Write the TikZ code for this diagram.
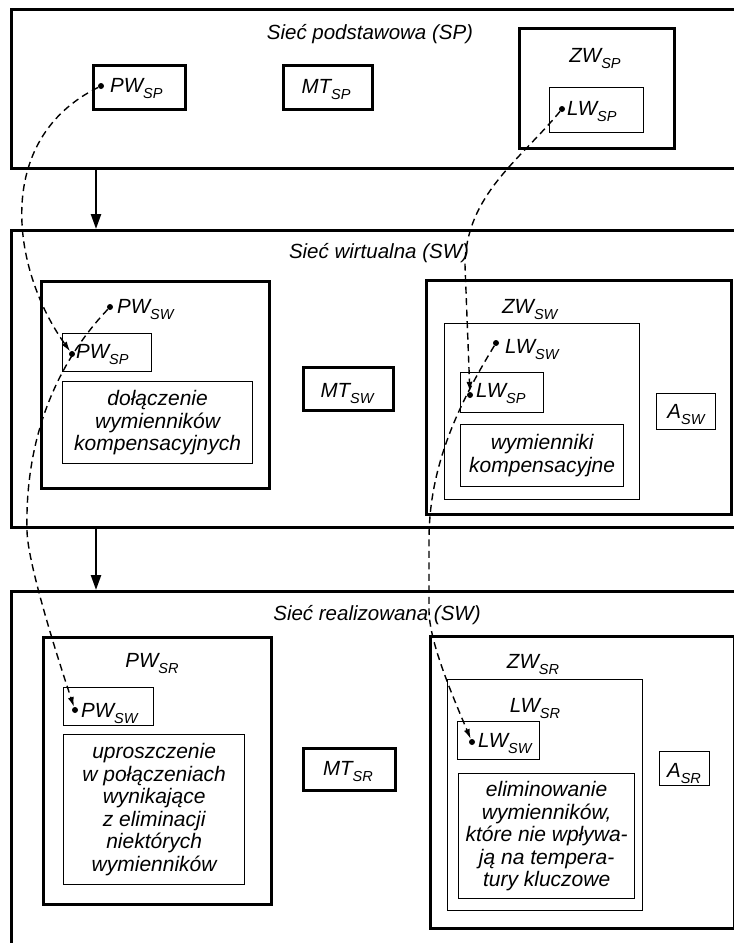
\documentclass[tikz,border=0pt]{standalone}
\usepackage{fontspec}
\setmainfont{Liberation Sans}
\usetikzlibrary{arrows.meta}
\newcommand\sbs[1]{\raisebox{-0.3em}{\fontsize{14.5}{14.5}\selectfont #1}}
\newcommand\rbox[7]{\node[#1, minimum width={(#5-#3)*1pt}, minimum height={(#6-#4)*1pt}] (#2) at (#3,#4) {#7};}
\tikzset{
  thickbox/.style={draw, line width=2.6pt, anchor=north west, inner sep=0pt},
  thinbox/.style={draw, line width=1.3pt, anchor=north west, inner sep=0pt},
  txt/.style={font=\fontsize{20.5}{22.5}\selectfont\itshape, inner sep=0pt, align=center},
  btxt/.style={font=\fontsize{21}{22.5}\selectfont\itshape, inner sep=0pt, align=center},
  link/.style={dash pattern=on 7pt off 4.5pt, line width=1.4pt, -{Latex[length=10pt,width=6pt]}},
  flow/.style={line width=2.4pt, -{Triangle[length=15pt,width=10pt]}},
  pdot/.style={circle, fill, inner sep=0pt, minimum size=6pt},
}
\begin{document}
\begin{tikzpicture}[x=1pt,y=-1pt]
\useasboundingbox (0,0) rectangle (734,943);
\clip (0,0) rectangle (734,943);

% ---------- panel 1 ----------
\rbox{thickbox}{p1}{10}{8}{790}{167}{}
\node[txt, anchor=base] (t1) at (370,39) {Sieć podstawowa (SP)};
\rbox{thickbox}{b1}{92}{64}{184}{108}{}
\node[txt, anchor=base west] (l1) at (110,92) {PW\sbs{SP}};
\rbox{thickbox}{mt1}{282}{64}{371}{108}{}
\node[txt, anchor=base] (lmt1) at (326,93) {MT\sbs{SP}};
\rbox{thickbox}{zw1}{518}{27}{673}{147}{}
\node[txt, anchor=base] (lzw1) at (595,62) {ZW\sbs{SP}};
\rbox{thinbox}{lw1}{549}{87}{643}{132}{}
\node[txt, anchor=base west] (llw1) at (567,115) {LW\sbs{SP}};

% ---------- panel 2 ----------
\rbox{thickbox}{p2}{10}{229}{790}{526}{}
\node[txt, anchor=base] (t2) at (379,258) {Sieć wirtualna (SW)};
\rbox{thickbox}{c2a}{40}{280}{268}{487}{}
\node[txt, anchor=base west] (lpw2) at (117,313) {PW\sbs{SW}};
\rbox{thinbox}{b2}{62}{333}{151}{371}{}
\node[txt, anchor=base west] (lpws2) at (76,358) {PW\sbs{SP}};
\rbox{thinbox,btxt}{tx2}{62}{381}{252}{463}{dołączenie\\wymienników\\kompensacyjnych}
\rbox{thickbox}{mt2}{302}{366}{392}{409}{}
\node[txt, anchor=base] (lmt2) at (347,397) {MT\sbs{SW}};
\rbox{thickbox}{zw2}{425}{279}{730}{513}{}
\node[txt, anchor=base west] (lzw2) at (502,313) {ZW\sbs{SW}};
\rbox{thinbox}{lwc2}{444}{323}{639}{499}{}
\node[txt, anchor=base west] (llw2) at (505,353) {LW\sbs{SW}};
\rbox{thinbox}{lw2}{460}{372}{543}{412}{}
\node[txt, anchor=base west] (llws2) at (476,397) {LW\sbs{SP}};
\rbox{thinbox,btxt}{tx2b}{460}{424}{623}{486}{wymienniki\\kompensacyjne}
\rbox{thinbox}{a2}{656}{393}{715}{429}{}
\node[txt, anchor=base] (la2) at (686,418) {A\sbs{SW}};

% ---------- panel 3 ----------
\rbox{thickbox}{p3}{10}{590}{790}{1000}{}
\node[txt, anchor=base] (t3) at (377,620) {Sieć realizowana (SW)};
\rbox{thickbox}{c3a}{42}{636}{270}{903}{}
\node[txt, anchor=base] (lpw3) at (152,667) {PW\sbs{SR}};
\rbox{thinbox}{b3}{63}{687}{153}{725}{}
\node[txt, anchor=base west] (lpws3) at (81,717) {PW\sbs{SW}};
\rbox{thinbox,btxt}{tx3}{63}{734}{244}{884}{uproszczenie\\w połączeniach\\wynikające\\z eliminacji\\niektórych\\wymienników}
\rbox{thickbox}{mt3}{302}{747}{394}{789}{}
\node[txt, anchor=base] (lmt3) at (348,775) {MT\sbs{SR}};
\rbox{thickbox}{zw3}{429}{635}{733}{927}{}
\node[txt, anchor=base] (lzw3) at (533,668) {ZW\sbs{SR}};
\rbox{thinbox}{lwc3}{447}{679}{642}{910}{}
\node[txt, anchor=base] (llw3) at (535,712) {LW\sbs{SR}};
\rbox{thinbox}{lw3}{457}{721}{539}{759}{}
\node[txt, anchor=base west] (llws3) at (478,747) {LW\sbs{SW}};
\rbox{thinbox,btxt}{tx3b}{458}{773}{634}{898}{eliminowanie\\wymienników,\\które nie wpływa-\\ją na tempera-\\tury kluczowe}
\rbox{thinbox}{a3}{659}{751}{709}{785}{}
\node[txt, anchor=base] (la3) at (684,777) {A\sbs{SR}};

% ---------- flow arrows ----------
\draw[flow] ([xshift=86pt]p1.south west) -- ([xshift=86pt]p2.north west);
\draw[flow] ([xshift=86pt]p2.south west) -- ([xshift=86pt]p3.north west);

% ---------- dots ----------
\node[pdot] (d1) at (101,86) {};
\node[pdot] (d2) at (562,109) {};
\node[pdot] (d3) at (110,307) {};
\node[pdot] (d4) at (72,354) {};
\node[pdot] (d5) at (496,343) {};
\node[pdot] (d6) at (470,395) {};
\node[pdot] (d7) at (75,710) {};
\node[pdot] (d8) at (472,742) {};
\coordinate (k2) at (27,530);
\coordinate (k3) at (465,265);
\coordinate (k4a) at (429,540);
\coordinate (k4b) at (429,610);

% ---------- dashed links ----------
\draw[link] (d1) .. controls (-8,140) and (12,270) .. (d4);
\draw[link] (d3) .. controls (55,365) and (25,440) .. (k2) .. controls (27,560) and (55,650) .. (d7);
\draw[link] (d2) .. controls (520,160) and (466,195) .. (k3) -- (d6);
\draw[link] (d5) .. controls (455,410) and (429,470) .. (k4a) -- (k4b) .. controls (429,640) and (450,690) .. (d8);
\end{tikzpicture}
\end{document}
